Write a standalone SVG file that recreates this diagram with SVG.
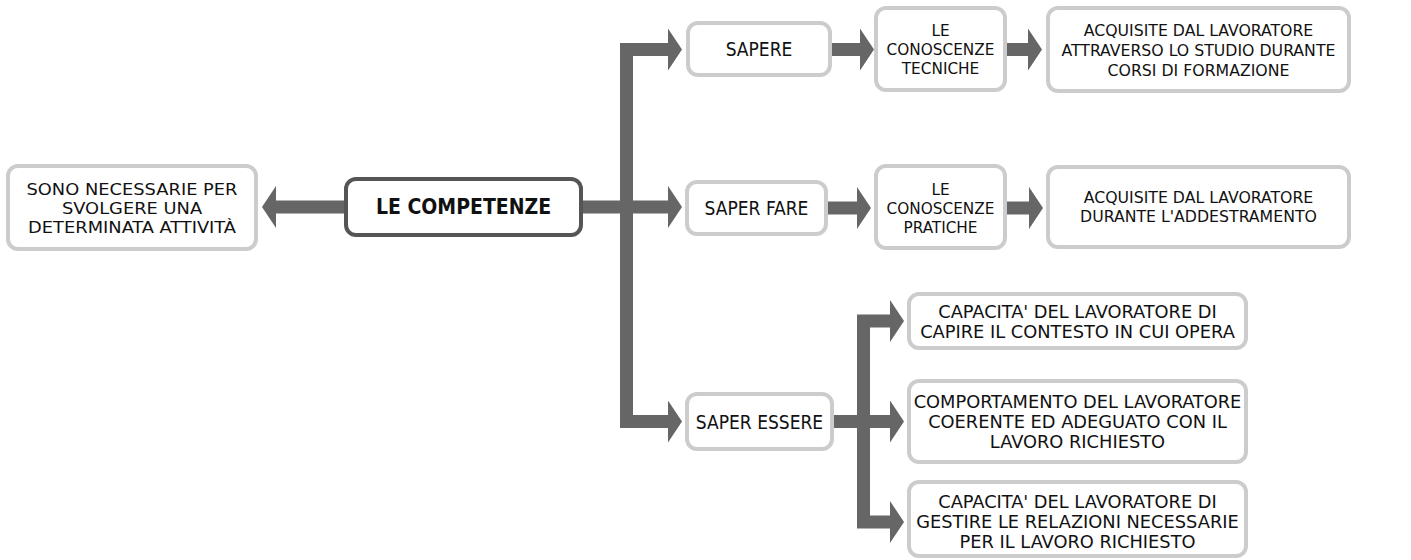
<svg xmlns="http://www.w3.org/2000/svg" width="1411" height="560" viewBox="0 0 1411 560">
<style>
.box{fill:#fff;stroke:#cccccc;stroke-width:4}
.main{fill:#fff;stroke:#555;stroke-width:4}
.t{font-family:"DejaVu Sans Condensed","DejaVu Sans",sans-serif;font-size:17px;fill:#111;text-anchor:middle;dominant-baseline:central}
.b{font-weight:bold;font-size:21px}
.s16{font-size:16px}
.s165{font-size:16.5px}
.s19{font-size:19px}
.c{fill:none;stroke:#666;stroke-width:13;stroke-linejoin:miter}
</style>
<defs>
<marker id="ah" viewBox="0 0 14 42" refX="0" refY="21" markerWidth="14" markerHeight="42" markerUnits="userSpaceOnUse" orient="auto-start-reverse">
<path d="M0,0 L14,21 L0,42 Z" fill="#666"/>
</marker>
</defs>
<g id="connectors">
<path class="c" d="M346,207 H276" marker-end="url(#ah)"/>
<path class="c" d="M582,207 H668" marker-end="url(#ah)"/>
<path class="c" d="M668,49.5 H626.5 V421.5 H668" marker-start="url(#ah)" marker-end="url(#ah)"/>
<path class="c" d="M830,49.5 H860" marker-end="url(#ah)"/>
<path class="c" d="M1005,49.5 H1028" marker-end="url(#ah)"/>
<path class="c" d="M826,208 H857" marker-end="url(#ah)"/>
<path class="c" d="M1005,208 H1029" marker-end="url(#ah)"/>
<path class="c" d="M832,421.5 H890" marker-end="url(#ah)"/>
<path class="c" d="M890,321 H863.5 V522 H890" marker-start="url(#ah)" marker-end="url(#ah)"/>
</g>
<g id="n_left">
<rect class="box" x="8" y="166" width="248" height="83" rx="10"/>
<g transform="translate(132,0) scale(1.24,1)">
<text class="t s16" x="0" y="189">SONO NECESSARIE PER</text>
<text class="t s16" x="0" y="208">SVOLGERE UNA</text>
<text class="t s16" x="0" y="227">DETERMINATA ATTIVITÀ</text>
</g>
</g>
<g id="n_competenze">
<rect class="main" x="346" y="179" width="235" height="56" rx="10"/>
<text class="t b" x="463.5" y="207">LE COMPETENZE</text>
</g>
<g id="n_sapere">
<rect class="box" x="688" y="23" width="142" height="52" rx="10"/>
<text class="t s19" x="759" y="49">SAPERE</text>
</g>
<g id="n_tecniche">
<rect class="box" x="876" y="8" width="129" height="82" rx="10"/>
<g transform="translate(940.5,0) scale(1.0625,1)">
<text class="t s16" x="0" y="31">LE</text>
<text class="t s16" x="0" y="50">CONOSCENZE</text>
<text class="t s16" x="0" y="69">TECNICHE</text>
</g>
</g>
<g id="n_acq1">
<rect class="box" x="1048" y="8" width="301" height="83" rx="10"/>
<g transform="translate(1198.5,0) scale(1.06,1)">
<text class="t s165" x="0" y="30">ACQUISITE DAL LAVORATORE</text>
<text class="t s165" x="0" y="50">ATTRAVERSO LO STUDIO DURANTE</text>
<text class="t s165" x="0" y="70">CORSI DI FORMAZIONE</text>
</g>
</g>
<g id="n_saperfare">
<rect class="box" x="687" y="182" width="139" height="52" rx="10"/>
<text class="t s19" x="756.5" y="208">SAPER FARE</text>
</g>
<g id="n_pratiche">
<rect class="box" x="876" y="166" width="129" height="82" rx="10"/>
<g transform="translate(940.5,0) scale(1.0625,1)">
<text class="t s16" x="0" y="190">LE</text>
<text class="t s16" x="0" y="209">CONOSCENZE</text>
<text class="t s16" x="0" y="228">PRATICHE</text>
</g>
</g>
<g id="n_acq2">
<rect class="box" x="1048" y="167" width="301" height="80" rx="10"/>
<g transform="translate(1198.5,0) scale(1.06,1)">
<text class="t s165" x="0" y="197.5">ACQUISITE DAL LAVORATORE</text>
<text class="t s165" x="0" y="216.5">DURANTE L'ADDESTRAMENTO</text>
</g>
</g>
<g id="n_saperessere">
<rect class="box" x="687" y="394" width="145" height="55" rx="10"/>
<text class="t s19" x="759.5" y="421.5">SAPER ESSERE</text>
</g>
<g id="n_capire">
<rect class="box" x="909" y="294" width="337" height="54" rx="10"/>
<g transform="translate(1077.5,0) scale(1.165,1)">
<text class="t" x="0" y="312">CAPACITA' DEL LAVORATORE DI</text>
<text class="t" x="0" y="332">CAPIRE IL CONTESTO IN CUI OPERA</text>
</g>
</g>
<g id="n_comportamento">
<rect class="box" x="909" y="381" width="337" height="81" rx="10"/>
<g transform="translate(1077.5,0) scale(1.165,1)">
<text class="t" x="0" y="402">COMPORTAMENTO DEL LAVORATORE</text>
<text class="t" x="0" y="422">COERENTE ED ADEGUATO CON IL</text>
<text class="t" x="0" y="442">LAVORO RICHIESTO</text>
</g>
</g>
<g id="n_gestire">
<rect class="box" x="909" y="482" width="337" height="74" rx="10"/>
<g transform="translate(1077.5,0) scale(1.165,1)">
<text class="t" x="0" y="502">CAPACITA' DEL LAVORATORE DI</text>
<text class="t" x="0" y="522">GESTIRE LE RELAZIONI NECESSARIE</text>
<text class="t" x="0" y="542">PER IL LAVORO RICHIESTO</text>
</g>
</g>
</svg>
